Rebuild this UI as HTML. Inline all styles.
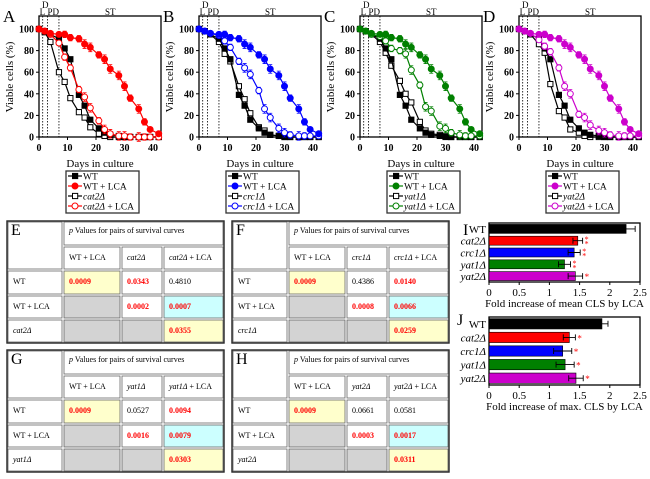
<!DOCTYPE html>
<html><head><meta charset="utf-8"><style>
body{margin:0;background:#fff}
svg{display:block;font-family:"Liberation Serif",serif}
</style></head><body>
<svg id="fig" width="650" height="479" viewBox="0 0 650 479"></svg>
<script>
const days=[0,2,4,7,9,11,14,16,18,21,23,25,28,30,32,35,37,39,42];
const wt=[100,98,95,91,82,72,39,29,16,8,4,2,1,0,0,0,0,0,0];
const wtLca=[100,98,96,95,95,92,91,86,83,76,72,63,57,47,36,26,14,7,3];
const wtLcaErr=[0,1,1,2,3,3,3,4,4,3,4,4,4,4,3,4,3,2,1];
const cat2=[100,97,88,60,51,36,23,18,9,3,1,0,0,0,0,0,0,0,0];
const cat2Lca=[100,98,95,87,74,64,44,37,27,15,7,3,1,1,0,0,0,0,0];
const crc1=[100,98,95,88,77,70,47,35,22,9,6,2,1,0,0,0,0,0,0];
const crc1Lca=[100,98,96,94,89,83,70,64,58,43,26,18,8,4,2,1,1,1,1];
const yat1=[100,98,95,88,78,66,52,40,32,14,6,3,2,1,0,0,0,0,0];
const yat1Lca=[100,98,95,93,89,82,80,77,62,48,28,24,10,8,4,2,1,1,1];
const yat2=[100,98,95,86,78,49,24,18,7,4,1,0,0,0,0,0,0,0,0];
const yat2Lca=[100,98,96,90,84,79,64,47,40,21,18,11,6,4,2,1,1,1,1];
const xTicks=[0,10,20,30,40];
const yTicks=[0,20,40,60,80,100];
const barCats=["WT","cat2Δ","crc1Δ","yat1Δ","yat2Δ"];
const meanFold=[2.27,1.47,1.41,1.25,1.43];
const meanErr=[0.15,0.08,0.1,0.1,0.12];
const maxFold=[1.87,1.33,1.22,1.26,1.44];
const maxErr=[0.1,0.1,0.15,0.15,0.12];
const barTicks=[0,0.5,1,1.5,2,2.5];
const barColors=["#000","#ff0000","#0000ff","#008000","#cc00cc"];
const starsI=[0,2,2,2,1];
const starsJ=[0,1,1,1,1];

const NS="http://www.w3.org/2000/svg";
const svg=document.getElementById('fig');
function mk(tag,attrs,parent,text){const e=document.createElementNS(NS,tag);for(const k in attrs)e.setAttribute(k,attrs[k]);if(text!==undefined)e.textContent=text;(parent||svg).appendChild(e);return e;}

const panels=[
 {L:"A",ox:0,c:"#ff0000",m:"cat2Δ",mut:cat2,mutL:cat2Lca},
 {L:"B",ox:160,c:"#0000ff",m:"crc1Δ",mut:crc1,mutL:crc1Lca},
 {L:"C",ox:321,c:"#008000",m:"yat1Δ",mut:yat1,mutL:yat1Lca},
 {L:"D",ox:480,c:"#cc00cc",m:"yat2Δ",mut:yat2,mutL:yat2Lca}];

panels.forEach(p=>{
 const g=mk('g',{},svg);
 
 
 const x0=39+p.ox;
 const X=d=>x0+d*2.85, Y=v=>137-v*1.08;
 const lab=mk('text',{x:3+p.ox,y:22,'font-size':17},g,p.L);
 
 const box=mk('rect',{x:x0,y:16,width:122,height:121,fill:'none',stroke:'#000','stroke-width':1.3},g);
 
 [1.3,3,7].forEach(d=>mk('line',{x1:X(d),x2:X(d),y1:16,y2:137,stroke:'#000','stroke-dasharray':'1.5,1.5','stroke-width':0.8},g));
 [["L",1.2,15],["D",2.2,8],["PD",5,15],["ST",25,15]].forEach(t=>{const e=mk('text',{x:X(t[1]),y:t[2],'font-size':9,'text-anchor':'middle'},g,t[0]);});
 yTicks.forEach(v=>{mk('line',{x1:x0-3,x2:x0,y1:Y(v),y2:Y(v),stroke:'#000'},g);mk('text',{x:x0-5,y:Y(v)+3.5,'font-size':10,'font-weight':'bold','text-anchor':'end'},g,v);});
 xTicks.forEach(v=>{mk('line',{x1:X(v),x2:X(v),y1:137,y2:140,stroke:'#000'},g);mk('text',{x:X(v),y:151,'font-size':10,'font-weight':'bold','text-anchor':'middle'},g,v);});
 const yl=mk('text',{x:0,y:0,'font-size':11,'text-anchor':'middle',transform:`translate(${13+p.ox},77) rotate(-90)`},g,'Viable cells (%)');
 
 const xl=mk('text',{x:x0+61,y:167,'font-size':11,'text-anchor':'middle'},g,'Days in culture');
 
 const series=[
  {v:p.mut,c:'#000',sq:true,fill:false,err:null},
  {v:wt,c:'#000',sq:true,fill:true,err:null},
  {v:p.mutL,c:p.c,sq:false,fill:false,err:wtLcaErr},
  {v:wtLca,c:p.c,sq:false,fill:true,err:wtLcaErr}];
 series.forEach(s=>{
  const sg=mk('g',{},g);
  
  mk('polyline',{points:days.map((d,i)=>X(d)+','+Y(s.v[i])).join(' '),fill:'none',stroke:s.c,'stroke-width':1.2},sg);
  days.forEach((d,i)=>{
   const cx=X(d),cy=Y(s.v[i]);
   if(s.err&&s.err[i]>1){const e=s.err[i]*1.08;mk('path',{d:`M${cx},${cy-e}V${cy+e}M${cx-2},${cy-e}H${cx+2}M${cx-2},${cy+e}H${cx+2}`,stroke:s.c,'stroke-width':0.8,fill:'none'},sg);}
   if(s.sq)mk('rect',{x:cx-2.6,y:cy-2.6,width:5.2,height:5.2,fill:s.fill?s.c:'#fff',stroke:s.c,'stroke-width':1},sg);
   else mk('circle',{cx:cx,cy:cy,r:3,fill:s.fill?s.c:'#fff',stroke:s.c,'stroke-width':1},sg);
  });
 });
 const lg=mk('g',{},g);
 
 const lx=66+p.ox;
 mk('rect',{x:lx,y:171,width:73,height:42,fill:'#fff',stroke:'#333','stroke-width':1.3},lg);
 const ents=[["WT",'#000',true,true,false],["WT + LCA",p.c,false,true,false],[p.m,'#000',true,false,true],[p.m+" + LCA",p.c,false,false,true]];
 ents.forEach((e,i)=>{
  const y=176+i*10;
  const eg=mk('g',{},lg);
  
  mk('line',{x1:lx+2,x2:lx+16,y1:y,y2:y,stroke:e[1],'stroke-width':1.2},eg);
  if(e[2])mk('rect',{x:lx+6.5,y:y-2.6,width:5.2,height:5.2,fill:e[3]?e[1]:'#fff',stroke:e[1]},eg);
  else mk('circle',{cx:lx+9,cy:y,r:3,fill:e[3]?e[1]:'#fff',stroke:e[1]},eg);
  const t=mk('text',{x:lx+17,y:y+3.5,'font-size':9.5},eg);
  if(e[4]){mk('tspan',{'font-style':'italic'},t,p.m);if(i==3)mk('tspan',{},t,' + LCA');}else t.textContent=e[0];
 });
});

const tables=[
 {L:"E",ox:0,oy:0,m:"cat2Δ",v:["0.0009","0.0343","0.4810","0.0002","0.0007","0.0355"],red:[1,1,0,1,1,1]},
 {L:"F",ox:225,oy:0,m:"crc1Δ",v:["0.0009","0.4386","0.0140","0.0008","0.0066","0.0259"],red:[1,0,1,1,1,1]},
 {L:"G",ox:0,oy:129,m:"yat1Δ",v:["0.0009","0.0527","0.0094","0.0016","0.0079","0.0303"],red:[1,0,1,1,1,1]},
 {L:"H",ox:225,oy:129,m:"yat2Δ",v:["0.0009","0.0661","0.0581","0.0003","0.0017","0.0311"],red:[1,0,0,1,1,1]}];
tables.forEach(t=>{
 const g=mk('g',{},svg);
 
 const cx=[7,63,121,163,224].map(v=>v+t.ox), ry=[221,246,270,295,319,343].map(v=>v+t.oy);
 mk('rect',{x:cx[0],y:ry[0],width:cx[4]-cx[0],height:ry[5]-ry[0],fill:'#fff',stroke:'#222','stroke-width':1.4},g);
 const cell=(c,r,w,h,fill)=>mk('rect',{x:cx[c]+1,y:ry[r]+1,width:cx[c+w]-cx[c]-2,height:ry[r+h]-ry[r]-2,fill:fill,stroke:'#666','stroke-width':0.8},g);
 cell(0,0,1,2,'#fff');cell(1,0,3,1,'#fff');
 [1,2,3].forEach(c=>cell(c,1,1,1,'#fff'));
 const fills=[['#fff','#ffffcc','#fff','#fff'],['#fff','#d3d3d3','#fff','#ccffff'],['#fff','#d3d3d3','#d3d3d3','#ffffcc']];
 for(let r=0;r<3;r++)for(let c=0;c<4;c++)cell(c,r+2,1,1,fills[r][c]);
 const lab=mk('text',{x:cx[0]+4,y:ry[0]+14,'font-size':16},g,t.L);
 
 const h=mk('text',{x:cx[1]+6,y:ry[0]+12,'font-size':8},g);
 mk('tspan',{'font-style':'italic'},h,'p');mk('tspan',{},h,' Values for pairs of survival curves');
 mk('text',{x:cx[1]+6,y:ry[1]+14,'font-size':8},g,'WT + LCA');
 mk('text',{x:cx[2]+6,y:ry[1]+14,'font-size':8,'font-style':'italic'},g,t.m);
 const s3=mk('text',{x:cx[3]+6,y:ry[1]+14,'font-size':8},g);mk('tspan',{'font-style':'italic'},s3,t.m);mk('tspan',{},s3,' + LCA');
 mk('text',{x:cx[0]+6,y:ry[2]+14,'font-size':8},g,'WT');
 mk('text',{x:cx[0]+6,y:ry[3]+14,'font-size':8},g,'WT + LCA');
 mk('text',{x:cx[0]+6,y:ry[4]+14,'font-size':8,'font-style':'italic'},g,t.m);
 const pos=[[1,2],[2,2],[3,2],[2,3],[3,3],[3,4]];
 pos.forEach((pp,i)=>{const e=mk('text',{x:cx[pp[0]]+6,y:ry[pp[1]]+14,'font-size':8,'font-weight':t.red[i]?'bold':'normal',fill:t.red[i]?'#ff0000':'#000'},g,t.v[i]);});
});

function barChart(L,lx,ly,top,bottom,vals,errs,stars,title){
 const g=mk('g',{},svg);
 
 const x0=489,x1=640,X=v=>x0+v*(x1-x0)/2.5;
 const lab=mk('text',{x:lx,y:ly,'font-size':16},g,L);
 
 mk('rect',{x:x0,y:top,width:x1-x0,height:bottom-top,fill:'none',stroke:'#000','stroke-width':1.3},g);
 const rh=(bottom-top)/5;
 vals.forEach((v,i)=>{
  const cy=top+rh*(i+0.5);
  const b=mk('rect',{x:x0,y:cy-rh*0.38,width:X(v)-x0,height:rh*0.76,fill:barColors[i],stroke:'#000','stroke-width':0.6},g);
  
  const e1=X(v-errs[i]),e2=X(v+errs[i]);
  mk('path',{d:`M${e1},${cy}H${e2}M${e1},${cy-3}V${cy+3}M${e2},${cy-3}V${cy+3}`,stroke:'#000','stroke-width':0.9,fill:'none'},g);
  const lt=mk('text',{x:x0-3,y:cy+4,'font-size':11,'text-anchor':'end','font-style':i?'italic':'normal'},g,barCats[i]);
  
  if(stars[i]==1)mk('text',{x:e2+2,y:cy+4,'font-size':9,fill:'#ff0000'},g,'*');
  if(stars[i]==2){mk('text',{x:e2+2,y:cy+1.5,'font-size':8,fill:'#ff0000'},g,'*');mk('text',{x:e2+2,y:cy+6,'font-size':8,fill:'#ff0000'},g,'*');}
 });
 barTicks.forEach(v=>{mk('line',{x1:X(v),x2:X(v),y1:bottom,y2:bottom+3,stroke:'#000'},g);mk('text',{x:X(v),y:bottom+14,'font-size':11,'text-anchor':'middle'},g,v);});
 const t=mk('text',{x:(x0+x1)/2,y:bottom+25,'font-size':11,'text-anchor':'middle'},g,title);
 
}
barChart("I",463,235,223,282,meanFold,meanErr,starsI,"Fold increase of mean CLS by LCA");
barChart("J",457,325,317,385,maxFold,maxErr,starsJ,"Fold increase of max. CLS by LCA");
</script>
</body></html>
